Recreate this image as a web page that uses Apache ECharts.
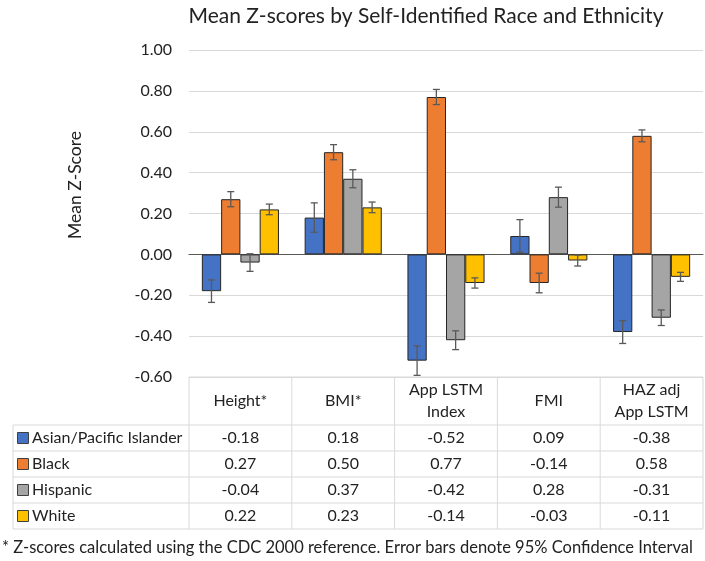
<!DOCTYPE html>
<html>
<head>
<meta charset="utf-8">
<script src="https://cdn.jsdelivr.net/npm/echarts@6/dist/echarts.min.js"></script>
<style>
  html, body { margin: 0; padding: 0; background: #fff; }
  #chart { width: 705px; height: 561px; }
</style>
</head>
<body>
<div id="chart"></div>
<script>
// categories and their table header lines
const categories = ['Height*', 'BMI*', 'App LSTM Index', 'FMI', 'HAZ adj App LSTM'];
const headerLines = [['Height*'], ['BMI*'], ['App LSTM', 'Index'], ['FMI'], ['HAZ adj', 'App LSTM']];
const groups = ['Asian/Pacific Islander', 'Black', 'Hispanic', 'White'];
const colors = ['#4472C4', '#ED7D31', '#A5A5A5', '#FFC000'];

// mean z-scores
const asianVals = [-0.18, 0.18, -0.52, 0.09, -0.38];
const blackVals = [0.27, 0.50, 0.77, -0.14, 0.58];
const hispanicVals = [-0.04, 0.37, -0.42, 0.28, -0.31];
const whiteVals = [0.22, 0.23, -0.14, -0.03, -0.11];

// half width of the 95% CI
const asianErr = [0.055, 0.072, 0.072, 0.08, 0.056];
const blackErr = [0.037, 0.037, 0.037, 0.048, 0.029];
const hispanicErr = [0.043, 0.044, 0.046, 0.049, 0.038];
const whiteErr = [0.026, 0.026, 0.025, 0.027, 0.022];

const yTicks = { min: -0.6, max: 1.0, interval: 0.2 };

const values = [asianVals, blackVals, hispanicVals, whiteVals];
const errors = [asianErr, blackErr, hispanicErr, whiteErr];

const FONT = 'Lato';
const TXT = '#222';
const GAP = 0.25; // bar category gap

const chart = echarts.init(document.getElementById('chart'));

let errData = [];
values.forEach(function (vals, s) {
    vals.forEach(function (v, i) {
        errData.push([i, v, errors[s][i], s]);
    });
});

function renderErr(params, api) {
    let cat = api.value(0), v = api.value(1), e = api.value(2), s = api.value(3);
    let band = api.size([1, 0])[0];
    let bw = band * (1 - GAP) / 4;
    let x = api.coord([cat, 0])[0] - band * (1 - GAP) / 2 + bw * (s + 0.5);
    let hi = api.coord([cat, v + e])[1];
    let lo = api.coord([cat, v - e])[1];
    let st = { stroke: '#595959', lineWidth: 1.3 };
    return {
        type: 'group',
        children: [
            { type: 'line', shape: { x1: x, y1: hi, x2: x, y2: lo }, style: st },
            { type: 'line', shape: { x1: x - 3.5, y1: hi, x2: x + 3.5, y2: hi }, style: st },
            { type: 'line', shape: { x1: x - 3.5, y1: lo, x2: x + 3.5, y2: lo }, style: st }
        ]
    };
}

let series = groups.map(function (g, s) {
    return {
        name: g,
        type: 'bar',
        data: values[s],
        barGap: '0%',
        barCategoryGap: (GAP * 100) + '%',
        itemStyle: { color: colors[s], borderColor: '#262626', borderWidth: 1 }
    };
});
series.push({
    type: 'custom',
    renderItem: renderErr,
    data: errData,
    encode: { x: 0, y: 1 },
    z: 5
});

chart.setOption({
    animation: false,
    title: {
        text: 'Mean Z-scores by Self-Identified Race and Ethnicity',
        left: 421,
        top: 1,
        textAlign: 'center',
        textStyle: { fontFamily: FONT, fontSize: 21, fontWeight: 'normal', color: TXT }
    },
    grid: { left: 189, right: 2, top: 50, bottom: 184 },
    xAxis: {
        type: 'category',
        data: categories,
        axisLine: { onZero: true, lineStyle: { color: '#595959', width: 1.2 } },
        axisTick: { show: false },
        axisLabel: { show: false }
    },
    yAxis: {
        type: 'value',
        min: yTicks.min,
        max: yTicks.max,
        interval: yTicks.interval,
        axisLine: { show: false },
        axisTick: { show: false },
        splitLine: { lineStyle: { color: '#d9d9d9', width: 1 } },
        axisLabel: {
            margin: 17,
            fontFamily: FONT,
            fontSize: 16,
            color: TXT,
            formatter: function (v) { return v.toFixed(2); }
        }
    },
    series: series
});

// data table under the plot, aligned with the category axis
function drawTable() {
    let c0 = chart.convertToPixel({ xAxisIndex: 0 }, 0);
    let c1 = chart.convertToPixel({ xAxisIndex: 0 }, 1);
    let band = c1 - c0;
    let top = chart.convertToPixel({ yAxisIndex: 0 }, yTicks.min);
    let left = 13;
    let plotLeft = c0 - band / 2;
    let right = plotLeft + band * categories.length;
    let headBottom = top + 48;
    let rowH = 26;
    let bottom = headBottom + rowH * groups.length;
    let line = { stroke: '#d9d9d9', lineWidth: 1 };
    let els = [];

    // vertical borders
    for (let i = 0; i <= categories.length; i++) {
        let x = plotLeft + band * i;
        els.push({ type: 'line', shape: { x1: x, y1: top, x2: x, y2: bottom }, style: line });
    }
    els.push({ type: 'line', shape: { x1: left, y1: headBottom, x2: left, y2: bottom }, style: line });
    // horizontal borders
    els.push({ type: 'line', shape: { x1: plotLeft, y1: top, x2: right, y2: top }, style: line });
    for (let r = 0; r <= groups.length; r++) {
        let y = headBottom + rowH * r;
        els.push({ type: 'line', shape: { x1: left, y1: y, x2: right, y2: y }, style: line });
    }

    // headers
    headerLines.forEach(function (lines, i) {
        els.push({
            type: 'text',
            style: {
                text: lines.join('\n'),
                x: c0 + band * i,
                y: (top + headBottom) / 2,
                textAlign: 'center',
                textVerticalAlign: 'middle',
                lineHeight: 22,
                font: '16px ' + FONT,
                fill: TXT
            }
        });
    });

    // rows
    groups.forEach(function (g, s) {
        let cy = headBottom + rowH * (s + 0.5);
        els.push({
            type: 'rect',
            shape: { x: 17.5, y: cy - 5.5, width: 11, height: 11 },
            style: { fill: colors[s], stroke: '#404040', lineWidth: 1 }
        });
        els.push({
            type: 'text',
            style: { text: g, x: 32, y: cy, textVerticalAlign: 'middle', font: '16px ' + FONT, fill: TXT }
        });
        values[s].forEach(function (v, i) {
            els.push({
                type: 'text',
                style: {
                    text: v.toFixed(2),
                    x: c0 + band * i,
                    y: cy,
                    textAlign: 'center',
                    textVerticalAlign: 'middle',
                    font: '16px ' + FONT,
                    fill: TXT
                }
            });
        });
    });

    // axis name and footnote
    els.push({
        type: 'text',
        x: 75,
        y: 185,
        rotation: Math.PI / 2,
        style: { text: 'Mean Z-Score', x: 0, y: 0, textAlign: 'center', textVerticalAlign: 'middle', font: '17.5px ' + FONT, fill: TXT }
    });
    els.push({
        type: 'text',
        style: {
            text: '* Z-scores calculated using the CDC 2000 reference. Error bars denote 95% Confidence Interval',
            x: 2,
            y: 548,
            textVerticalAlign: 'middle',
            font: '16.5px ' + FONT,
            fill: TXT
        }
    });

    chart.setOption({ graphic: { elements: els } });
}

drawTable();
</script>
</body>
</html>
